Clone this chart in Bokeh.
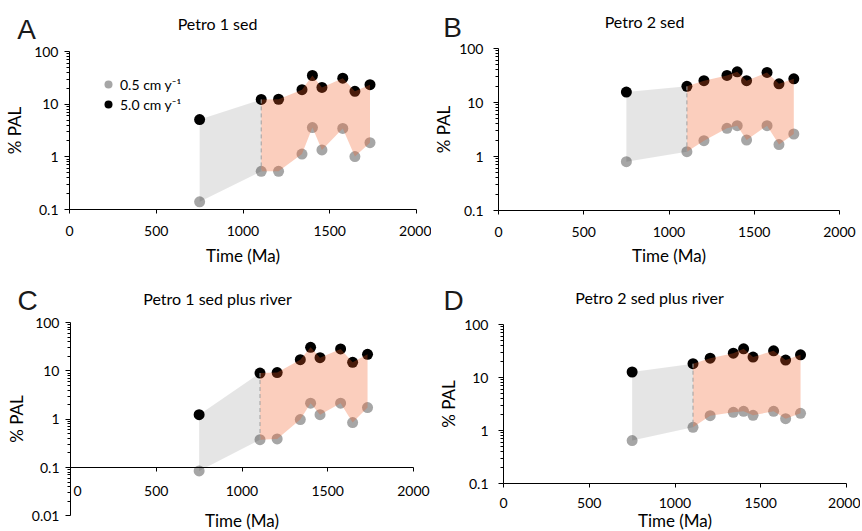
import math
from bokeh.plotting import figure
from bokeh.layouts import column, row
from bokeh.models import (Range1d, FixedTicker, CustomJSTickFormatter, Label,
                          Legend, LegendItem)
from bokeh.embed import file_html
from bokeh.resources import INLINE

# ---------------- data ----------------
time_ma = [750, 1105, 1205, 1340, 1400, 1455, 1575, 1645, 1732]

a_slow = [0.14, 0.53, 0.53, 1.13, 3.6, 1.35, 3.47, 1.01, 1.86]
a_fast = [5.1, 12.3, 12.4, 18.8, 35.0, 20.8, 31.2, 17.5, 23.4]

b_slow = [0.80, 1.23, 1.96, 3.32, 3.72, 2.02, 3.72, 1.66, 2.61]
b_fast = [15.6, 19.9, 25.3, 31.7, 37.0, 25.3, 36.0, 22.2, 27.5]

c_slow = [0.085, 0.376, 0.39, 0.98, 2.14, 1.24, 2.14, 0.85, 1.74]
c_fast = [1.24, 9.0, 9.2, 17.0, 30.7, 18.7, 28.4, 15.0, 22.0]

d_slow = [0.645, 1.15, 1.9, 2.2, 2.3, 1.93, 2.3, 1.67, 2.11]
d_fast = [12.7, 18.2, 23.2, 28.8, 34.8, 24.3, 31.9, 21.3, 26.8]

titles = ["Petro 1 sed", "Petro 2 sed", "Petro 1 sed plus river", "Petro 2 sed plus river"]
letters = ["A", "B", "C", "D"]
legend_labels = ["0.5 cm y\u207b\u00b9", "5.0 cm y\u207b\u00b9"]
x_ticks = [0, 500, 1000, 1500, 2000]
y_ticks = [0.01, 0.1, 1, 10, 100]
x_label = "Time (Ma)"
y_label = "% PAL"

# ---------------- layout / style (pixel geometry of each panel) ----------------
FONT = "Lato"
SLOW_COLOR = "#A6A6A6"
FAST_COLOR = "#000000"

specs = [
    dict(origin=(0, 0), size=(431, 265), xpx=(69, 416), ypx=(51, 209), ybottom=0.1,
         title=(217, 23), letter=(26, 29), tick_standoff=12, xlab_standoff=6,
         ytick_standoff=6, ylab_standoff=6),
    dict(origin=(431, 0), size=(429, 265), xpx=(498, 839), ypx=(48, 210), ybottom=0.1,
         title=(644, 21), letter=(452, 27), tick_standoff=12, xlab_standoff=5,
         ytick_standoff=10, ylab_standoff=2),
    dict(origin=(0, 265), size=(431, 266), xpx=(70, 413), ypx=(322, 467), ybottom=0.01,
         title=(217, 298), letter=(27, 300), tick_standoff=10, xlab_standoff=8,
         ytick_standoff=6, ylab_standoff=2),
    dict(origin=(431, 265), size=(429, 266), xpx=(503, 846), ypx=(324, 483), ybottom=0.1,
         title=(649, 297), letter=(453, 300), tick_standoff=10, xlab_standoff=-1,
         ytick_standoff=10, ylab_standoff=2),
]


def make_panel(i, slow, fast, with_legend=False):
    sp = specs[i]
    ox, oy = sp["origin"]
    W, H = sp["size"]
    x0, x2000 = sp["xpx"]
    y100, y01 = sp["ypx"]
    k = (x2000 - x0) / 2000.0
    dec = (y01 - y100) / 3.0
    xs, xe = (ox - x0) / k, (ox + W - x0) / k
    yhi = 10 ** (2 + (y100 - oy) / dec)
    ylo = 10 ** (2 - (oy + H - y100) / dec)

    def to_data(px, py):
        return (px - x0) / k, 10 ** (2 - (py - y100) / dec)

    p = figure(width=W, height=H, x_range=Range1d(xs, xe), y_range=Range1d(ylo, yhi),
               y_axis_type="log", output_backend="svg", toolbar_location=None,
               title=None, min_border=0)
    p.grid.visible = False
    p.outline_line_color = None
    p.background_fill_color = "white"
    p.border_fill_color = "white"

    # points
    r_slow = p.scatter(time_ma, slow, size=11, fill_color=SLOW_COLOR, line_color=None)
    r_fast = p.scatter(time_ma, fast, size=11, fill_color=FAST_COLOR, line_color=None)

    # grey band (first interval)
    gx = [time_ma[0], time_ma[1], time_ma[1], time_ma[0]]
    gy = [fast[0], fast[1], slow[1], slow[0]]
    p.patch(gx, gy, fill_color="black", fill_alpha=0.1, line_color=None)

    # pink band
    px_ = time_ma[1:] + time_ma[1:][::-1]
    py_ = fast[1:] + slow[1:][::-1]
    p.patch(px_, py_, fill_color="#F25C26", fill_alpha=0.3, line_color=None)

    p.segment(x0=[time_ma[1]], y0=[fast[1]], x1=[time_ma[1]], y1=[slow[1]],
              line_color="#A0A0A0", line_dash="4 3", line_width=1)

    # x axis (crossing the y axis at 0.1)
    xa = p.xaxis[0]
    xa.fixed_location = 0.1
    xa.bounds = (x_ticks[0], x_ticks[-1])
    xa.ticker = FixedTicker(ticks=x_ticks, minor_ticks=[])
    xa.axis_line_color = "black"
    xa.major_tick_line_color = "black"
    xa.major_tick_out = 4
    xa.major_tick_in = 0
    xa.major_label_standoff = sp["tick_standoff"]
    xa.major_label_text_font = FONT
    xa.major_label_text_font_size = "14px"
    xa.major_label_text_color = "black"
    if sp["ybottom"] < 0.1:
        xa.major_label_overrides = {0: "\u2002\u20020"}
    xa.axis_label = x_label
    xa.axis_label_standoff = sp["xlab_standoff"]
    xa.axis_label_text_font = FONT
    xa.axis_label_text_font_size = "17px"
    xa.axis_label_text_font_style = "normal"
    xa.axis_label_text_color = "black"

    # y axis (at time 0)
    ya = p.yaxis[0]
    ya.fixed_location = 0
    ya.bounds = (sp["ybottom"], 100)
    yt = [t for t in y_ticks if t >= sp["ybottom"]]
    minors = [m * t for t in yt[:-1] for m in range(2, 10)]
    ya.ticker = FixedTicker(ticks=yt, minor_ticks=minors)
    ya.formatter = CustomJSTickFormatter(code="return tick.toString();")
    ya.axis_line_color = "black"
    ya.major_tick_line_color = "black"
    ya.minor_tick_line_color = "black"
    ya.major_tick_out = 5
    ya.major_tick_in = 0
    ya.minor_tick_out = 3
    ya.minor_tick_in = 0
    ya.major_label_standoff = sp["ytick_standoff"]
    ya.major_label_text_font = FONT
    ya.major_label_text_font_size = "14px"
    ya.major_label_text_color = "black"
    ya.axis_label = y_label
    ya.axis_label_standoff = sp["ylab_standoff"]
    ya.axis_label_text_font = FONT
    ya.axis_label_text_font_size = "17px"
    ya.axis_label_text_font_style = "normal"
    ya.axis_label_text_color = "black"

    # title and panel letter
    tx, ty = to_data(*sp["title"])
    p.add_layout(Label(x=tx, y=ty, text=titles[i], text_font=FONT, text_font_size="16px",
                       text_align="center", text_baseline="middle", text_color="black"))
    lx, ly = to_data(*sp["letter"])
    p.add_layout(Label(x=lx, y=ly, text=letters[i], text_font="Liberation Sans",
                       text_font_size="28px", text_align="center", text_baseline="middle",
                       text_color="#1a1a1a"))

    if with_legend:
        leg = Legend(items=[LegendItem(label=legend_labels[0], renderers=[r_slow]),
                            LegendItem(label=legend_labels[1], renderers=[r_fast])],
                     location=(97 - ox, oy + H - 114), glyph_width=22, glyph_height=20,
                     spacing=0, padding=0, margin=0, label_standoff=1, label_height=20,
                     label_text_font=FONT, label_text_font_size="14px",
                     label_text_color="black",
                     border_line_color=None, background_fill_alpha=0)
        p.add_layout(leg)
    return p


pA = make_panel(0, a_slow, a_fast, with_legend=True)
pB = make_panel(1, b_slow, b_fast)
pC = make_panel(2, c_slow, c_fast)
pD = make_panel(3, d_slow, d_fast)

layout = column(row(pA, pB, spacing=0), row(pC, pD, spacing=0), spacing=0)
open("out.html", "w").write(file_html(layout, INLINE))
